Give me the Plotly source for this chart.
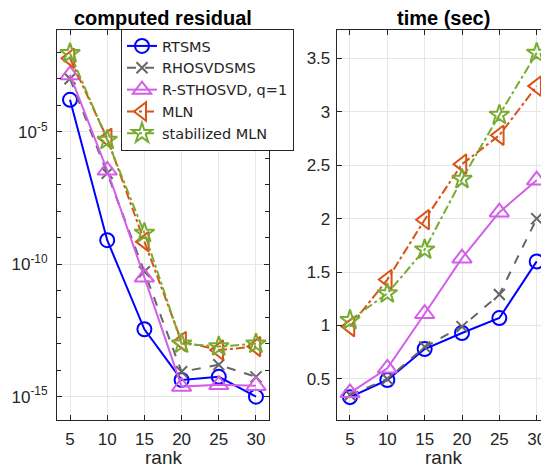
import plotly.graph_objects as go

ranks = [5, 10, 15, 20, 25, 30]
series_names = ["RTSMS", "RHOSVDSMS", "R-STHOSVD, q=1", "MLN", "stabilized MLN"]

residual_rtsms = [1.6e-4, 8.1e-10, 3.5e-13, 4.3e-15, 5.6e-15, 1.0e-15]
residual_rhosvdsms = [1.0e-3, 2.7e-7, 5.2e-11, 8.7e-15, 1.6e-14, 5.6e-15]
residual_rsthosvd = [1.4e-3, 3.5e-7, 3.2e-11, 2.4e-15, 2.8e-15, 2.6e-15]
residual_mln = [5.9e-3, 5.6e-6, 7.1e-10, 1.2e-13, 5.8e-14, 7.8e-14]
residual_smln = [9.1e-3, 4.9e-6, 1.5e-9, 1.0e-13, 7.8e-14, 1.0e-13]

time_rtsms = [0.33, 0.49, 0.78, 0.93, 1.07, 1.60]
time_rhosvdsms = [0.35, 0.50, 0.80, 0.99, 1.29, 2.00]
time_rsthosvd = [0.37, 0.60, 1.11, 1.63, 2.06, 2.36]
time_mln = [0.99, 1.43, 1.99, 2.51, 2.78, 3.24]
time_smln = [1.05, 1.30, 1.71, 2.37, 2.97, 3.55]

residuals = [residual_rtsms, residual_rhosvdsms, residual_rsthosvd, residual_mln, residual_smln]
times = [time_rtsms, time_rhosvdsms, time_rsthosvd, time_mln, time_smln]

colors = ["#0000FF", "#666666", "#D35FE8", "#D95319", "#77AC30"]
dashes = ["solid", "dash", "solid", "dashdot", "dashdot"]
symbols = ["circle-open", "x-thin-open", "triangle-up-open", "triangle-left-open", "star-open"]
sizes = [14, 11, 17, 17, 15]

FONT = "Liberation Sans, Arial, sans-serif"
W, H = 541, 461  # page body has an 8px margin inside the 549x469 window

fig = go.Figure()
for i, name in enumerate(series_names):
    common = dict(
        mode="lines+markers",
        line=dict(color=colors[i], width=2, dash=dashes[i]),
        marker=dict(symbol=symbols[i], size=sizes[i], color=colors[i],
                    line=dict(color=colors[i], width=2)),
        name=name,
    )
    fig.add_trace(go.Scatter(x=ranks, y=residuals[i], xaxis="x", yaxis="y",
                             showlegend=True, legendgroup=name, **common))
    fig.add_trace(go.Scatter(x=ranks, y=times[i], xaxis="x2", yaxis="y2",
                             showlegend=False, legendgroup=name, **common))

axis_color = "#262626"
grid_color = "#E6E6E6"
tick_font = dict(family=FONT, size=17, color=axis_color)

xcommon = dict(
    tickvals=ranks, ticks="inside", ticklen=5, tickcolor=axis_color,
    showline=True, linecolor=axis_color, linewidth=1, mirror="ticks",
    showgrid=True, gridcolor=grid_color, gridwidth=1, zeroline=False,
    tickfont=tick_font, ticklabelstandoff=4,
)

def px_x(p):
    return (p - 8) / W

def px_y(p):
    return 1 - (p - 8) / H

fig.update_layout(
    width=W, height=H,
    margin=dict(l=0, r=0, t=0, b=0),
    paper_bgcolor="white", plot_bgcolor="white",
    font=dict(family=FONT, color=axis_color),
    xaxis=dict(domain=[px_x(57), px_x(269)], range=[3.25, 31.75], anchor="y", **xcommon),
    xaxis2=dict(domain=[px_x(336.7), 1.0], range=[3.22, 31.65], anchor="y2", **xcommon),
    yaxis=dict(
        type="log", domain=[px_y(420), px_y(30)], range=[-15.88, -1.16], anchor="x",
        tickvals=[1e-15, 1e-10, 1e-5],
        ticktext=["10<sup>-15</sup>", "10<sup>-10</sup>", "10<sup>-5</sup>"],
        ticks="inside", ticklen=5, tickcolor=axis_color,
        minor=dict(ticks="inside", dtick=1, ticklen=4, tickcolor=axis_color, showgrid=False),
        showline=True, linecolor=axis_color, linewidth=1, mirror="ticks",
        showgrid=True, gridcolor=grid_color, zeroline=False,
        tickfont=tick_font, ticklabelstandoff=5,
    ),
    yaxis2=dict(
        domain=[px_y(420), px_y(30)], range=[0.116, 3.765], anchor="x2",
        tickvals=[0.5, 1, 1.5, 2, 2.5, 3, 3.5],
        ticktext=["0.5", "1", "1.5", "2", "2.5", "3", "3.5"],
        ticks="inside", ticklen=5, tickcolor=axis_color,
        showline=True, linecolor=axis_color, linewidth=1, mirror="ticks",
        showgrid=True, gridcolor=grid_color, zeroline=False,
        tickfont=tick_font, ticklabelstandoff=2,
    ),
    legend=dict(
        x=px_x(121), y=px_y(29), xanchor="left", yanchor="top",
        bgcolor="white", bordercolor="#262626", borderwidth=1,
        font=dict(family="DejaVu Sans, sans-serif", size=14.5, color=axis_color),
        tracegroupgap=0, itemwidth=30,
    ),
    annotations=[
        dict(text="<b>computed residual</b>", x=px_x(163), y=px_y(18), xref="paper", yref="paper",
             showarrow=False, font=dict(size=20, color="black"), xanchor="center", yanchor="middle"),
        dict(text="<b>time (sec)</b>", x=px_x(443), y=px_y(18), xref="paper", yref="paper",
             showarrow=False, font=dict(size=20, color="black"), xanchor="center", yanchor="middle"),
        dict(text="rank", x=px_x(163), y=px_y(457), xref="paper", yref="paper",
             showarrow=False, font=dict(size=19, color=axis_color), xanchor="center", yanchor="middle"),
        dict(text="rank", x=px_x(443), y=px_y(457), xref="paper", yref="paper",
             showarrow=False, font=dict(size=19, color=axis_color), xanchor="center", yanchor="middle"),
    ],
)

fig.write_html("out.html")
